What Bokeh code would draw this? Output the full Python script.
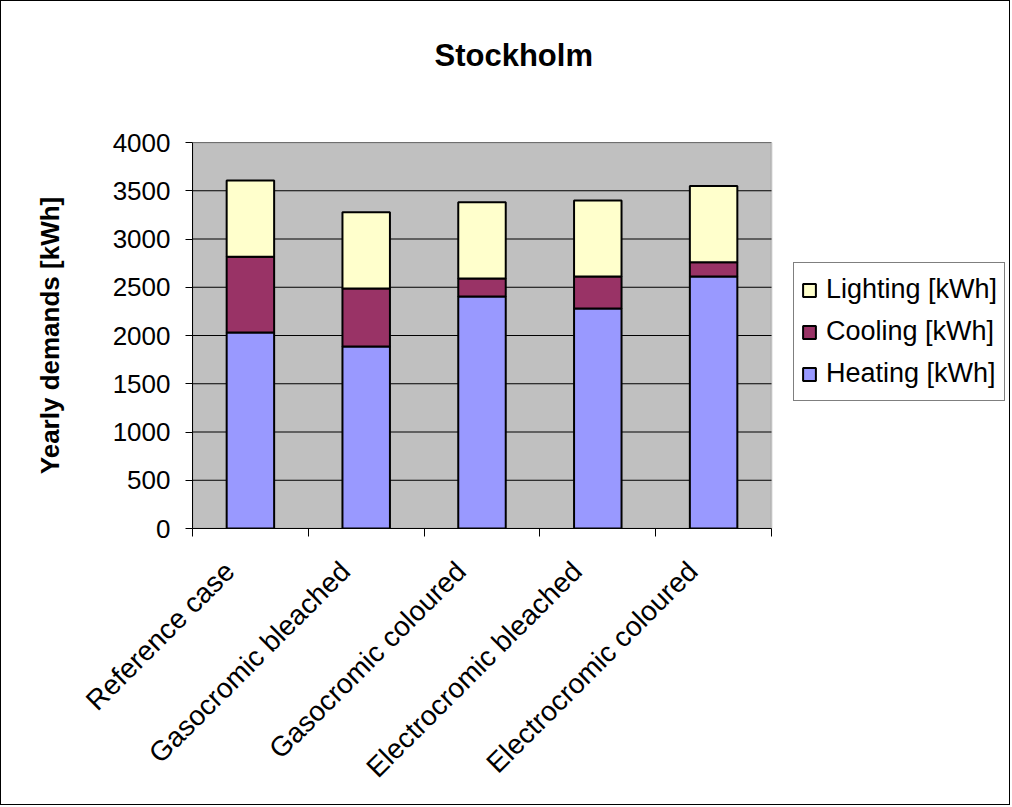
import math
from bokeh.plotting import figure
from bokeh.models import (ColumnDataSource, Range1d, FixedTicker, Legend, LegendItem,
                          LinearAxis, BoxAnnotation, Title)
from bokeh.embed import file_html
from bokeh.resources import INLINE

categories = ["Reference case", "Gasocromic bleached", "Gasocromic coloured",
              "Electrocromic bleached", "Electrocromic coloured"]
heating = [2030, 1885, 2403, 2279, 2611]
cooling = [785, 601, 187, 332, 148]
lighting = [791, 792, 792, 788, 789]
series_names = ["Heating [kWh]", "Cooling [kWh]", "Lighting [kWh]"]
y_ticks = [0, 500, 1000, 1500, 2000, 2500, 3000, 3500, 4000]
title_text = "Stockholm"
y_label = "Yearly demands [kWh]"

FONT = "Liberation Sans"
W, H = 1010, 805
LEFT, TOP, BOTTOM = 191, 141, 278
PLOT_W = 579  # width of the grey plot area in px
n = len(categories)
x_end = n * (W - LEFT) / PLOT_W

x = [i + 0.5 for i in range(n)]
label_pos = [v - 0.18 for v in x]
src = ColumnDataSource(dict(x=x, heating=heating, cooling=cooling, lighting=lighting))

p = figure(width=W, height=H, x_range=Range1d(0, x_end), y_range=Range1d(0, 4000),
           output_backend="svg", toolbar_location=None,
           min_border_left=LEFT, min_border_right=0, min_border_top=TOP, min_border_bottom=BOTTOM)
p.styles = {"border": "1px solid black"}
p.background_fill_color = "white"
p.border_fill_color = "white"
p.outline_line_color = None

# grey plot area
p.add_layout(BoxAnnotation(left=0, right=n, bottom=0, top=4000, fill_color="#C0C0C0", fill_alpha=1,
                           line_color="#808080", line_width=2, level="underlay"))
# gridlines
p.segment(x0=[0] * len(y_ticks), x1=[n] * len(y_ticks), y0=y_ticks, y1=y_ticks,
          line_color="black", line_width=1)

rs = p.vbar_stack(["heating", "cooling", "lighting"], x="x", width=0.41, source=src,
                  fill_color=["#9999FF", "#993366", "#FFFFCC"], line_color="black", line_width=2)

p.grid.visible = False

# y axis
p.yaxis.ticker = FixedTicker(ticks=y_ticks)
p.yaxis.bounds = (0, 4000)
p.yaxis.minor_tick_line_color = None
p.yaxis.major_tick_out = 7
p.yaxis.major_tick_in = 0
p.yaxis.major_label_standoff = 15
p.yaxis.major_label_text_font = FONT
p.yaxis.major_label_text_font_size = "26px"
p.yaxis.major_label_text_color = "black"
p.yaxis.axis_line_color = "black"
p.yaxis.major_tick_line_color = "black"
p.yaxis.axis_label = y_label
p.yaxis.axis_label_text_font = FONT
p.yaxis.axis_label_text_font_size = "26px"
p.yaxis.axis_label_text_font_style = "bold"
p.yaxis.axis_label_text_color = "black"
p.yaxis.axis_label_standoff = 45

# x axis
p.xaxis.ticker = FixedTicker(ticks=label_pos, minor_ticks=list(range(n + 1)))
p.xaxis.bounds = (0, n)
p.xaxis.major_label_overrides = {xv: c for xv, c in zip(label_pos, categories)}
p.xaxis.major_tick_line_color = None
p.xaxis.minor_tick_line_color = "black"
p.xaxis.minor_tick_out = 8
p.xaxis.minor_tick_in = 0
p.xaxis.axis_line_color = "black"
p.xaxis.major_label_orientation = math.pi / 4
p.xaxis.major_label_text_font = FONT
p.xaxis.major_label_text_font_size = "28px"
p.xaxis.major_label_text_color = "black"
p.xaxis.major_label_standoff = 30

# invisible spacer axis above the plot, so that the title sits higher
spacer = LinearAxis(ticker=FixedTicker(ticks=[]), axis_line_color=None,
                    major_tick_line_color=None, minor_tick_line_color=None,
                    major_tick_out=0, major_tick_in=0, major_label_standoff=0,
                    axis_label=" ", axis_label_text_font=FONT, axis_label_text_font_size="31px",
                    axis_label_standoff=32)
p.add_layout(spacer, "above")

p.title = Title(text=title_text, align="left", offset=242, vertical_align="bottom", standoff=0,
                text_font=FONT, text_font_size="31px", text_font_style="bold", text_color="black")

legend = Legend(items=[LegendItem(label=series_names[2], renderers=[rs[2]]),
                       LegendItem(label=series_names[1], renderers=[rs[1]]),
                       LegendItem(label=series_names[0], renderers=[rs[0]])],
                location=(601, 127))
legend.label_text_font = FONT
legend.label_text_font_size = "27px"
legend.label_text_color = "black"
legend.glyph_width = 16
legend.glyph_height = 16
legend.label_height = 39
legend.label_standoff = 9
legend.spacing = 3
legend.padding = 7
legend.margin = 0
legend.border_line_color = "black"
legend.border_line_width = 1
legend.background_fill_color = "white"
legend.background_fill_alpha = 1
p.add_layout(legend, "center")

open("out.html", "w").write(file_html(p, INLINE))
